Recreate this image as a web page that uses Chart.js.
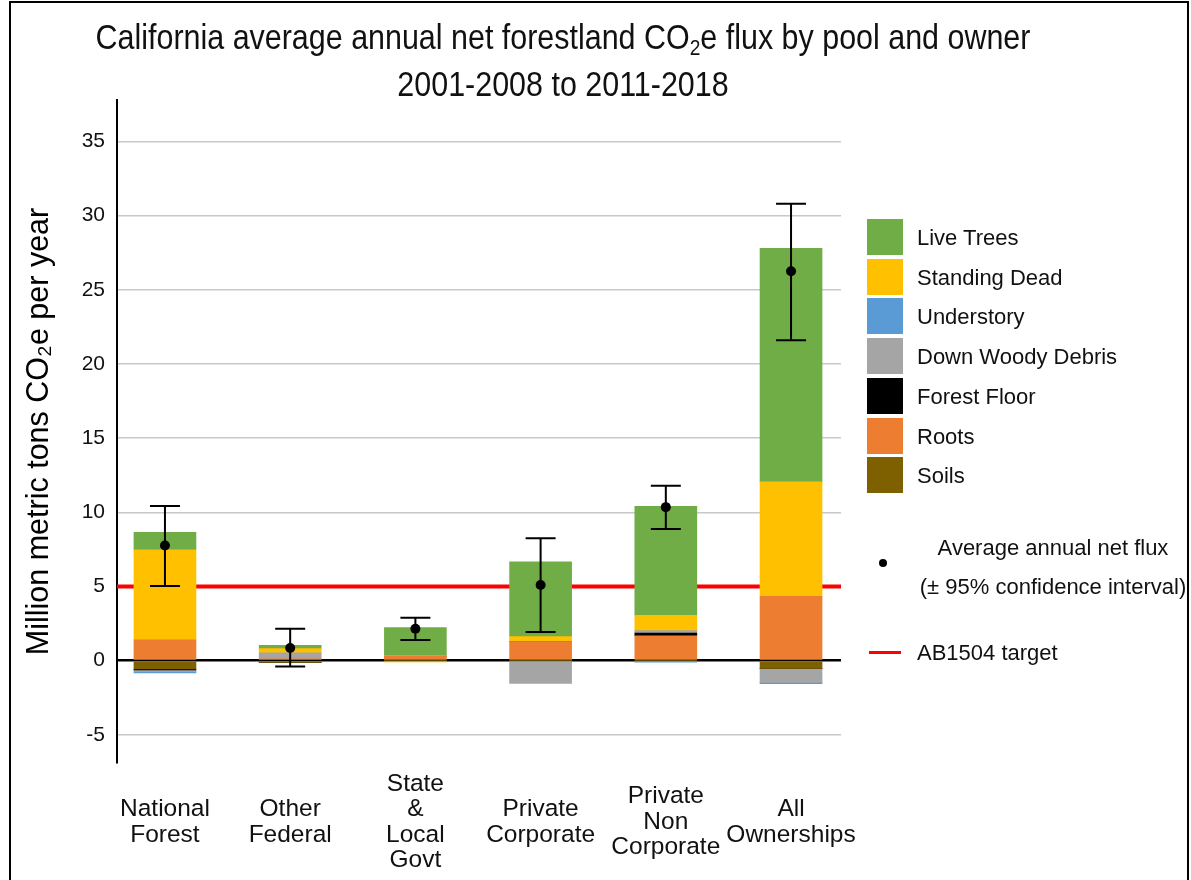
<!DOCTYPE html>
<html>
<head>
<meta charset="utf-8">
<script src="https://cdn.jsdelivr.net/npm/chart.js@4.4.1/dist/chart.umd.min.js"></script>
<style>
  html, body { margin: 0; padding: 0; background: #fff; }
  #wrap { position: relative; width: 1191px; height: 880px; overflow: hidden; background: #fff; }
  #frame { position: absolute; left: 9px; top: 1px; width: 1180px; height: 900px; border: 2px solid #000; box-sizing: border-box; pointer-events: none; }
  #chart { position: absolute; left: 0; top: 0; }
  .title { position: absolute; left: 0; width: 1126px; text-align: center; font-family: "Liberation Sans", Arial, sans-serif;
    font-size: 35px; line-height: 40px; color: #111; transform: scaleX(0.87); transform-origin: 50% 0; white-space: nowrap; }
  .title sub { font-size: 22px; vertical-align: -6px; line-height: 0; }
  .legend { position: absolute; font-family: "Liberation Sans", Arial, sans-serif; font-size: 22px; color: #111; white-space: nowrap; }
  .swatch { position: absolute; width: 36px; height: 36px; }
</style>
</head>
<body>
<div id="wrap">
  <canvas id="chart" width="1191" height="880"></canvas>
  <div class="title" style="top:17px">California average annual net forestland CO<sub>2</sub>e flux by pool and owner</div>
  <div class="title" style="top:64px">2001-2008 to 2011-2018</div>
  <div id="legendBox"></div>
  <div id="frame"></div>
</div>
<script>
const categories = [
  ["National", "Forest"],
  ["Other", "Federal"],
  ["State", "&", "Local", "Govt"],
  ["Private", "Corporate"],
  ["Private", "Non", "Corporate"],
  ["All", "Ownerships"]
];

const poolNames = ["Live Trees", "Standing Dead", "Understory", "Down Woody Debris", "Forest Floor", "Roots", "Soils"];
const poolColors = ["#70ad47", "#ffc000", "#5b9bd5", "#a5a5a5", "#000000", "#ed7d31", "#7f6000"];

const liveTrees = [1.19, 0.22, 1.87, 5.04, 7.36, 15.75];
const standingDead = [6.06, 0.29, -0.08, 0.36, 1.03, 7.72];
const understory = [-0.08, 0, 0, 0, -0.1, -0.09];
const downWoodyDebris = [-0.12, 0.39, 0.06, -1.53, 0.16, -0.94];
const forestFloor = [-0.07, 0, 0, 0, 0.18, 0];
const roots = [1.41, 0.13, 0.3, 1.26, 1.68, 4.33];
const soils = [-0.56, -0.12, 0, 0, 0, -0.52];

const netFlux = [7.76, 0.85, 2.15, 5.1, 10.35, 26.25];
const ciLow = [5.03, -0.4, 1.39, 1.93, 8.88, 21.6];
const ciHigh = [10.43, 2.15, 2.9, 8.26, 11.8, 30.8];

const targetValue = 5;
const targetLabel = "AB1504 target";
const fluxLabel = ["Average annual net flux", "(\u00b1 95% confidence interval)"];

const xMin = -0.383;
const xMax = 5.399;
const yMin = -6.9;
const yMax = 37.8;

const poolValues = [liveTrees, standingDead, understory, downWoodyDebris, forestFloor, roots, soils];
const FONT = '"Liberation Sans", Arial, sans-serif';

function toPoints(values) {
  return values.map((v, i) => ({ x: i, y: v }));
}

// stacking goes in dataset order, so soils sit next to zero and live trees on top
const barDatasets = poolNames.map((name, i) => ({
  type: "bar",
  label: name,
  data: toPoints(poolValues[i]),
  backgroundColor: poolColors[i],
  borderWidth: 0,
  barThickness: 62,
  stack: "pools",
  order: 2
})).reverse();

const errorBars = {
  id: "errorBars",
  afterDatasetsDraw(chart) {
    const { ctx, scales } = chart;
    ctx.save();
    ctx.strokeStyle = "#000";
    ctx.lineWidth = 2;
    netFlux.forEach((_, i) => {
      const x = scales.x.getPixelForValue(i);
      const lo = scales.y.getPixelForValue(ciLow[i]);
      const hi = scales.y.getPixelForValue(ciHigh[i]);
      ctx.beginPath();
      ctx.moveTo(x, lo);
      ctx.lineTo(x, hi);
      ctx.moveTo(x - 15, lo);
      ctx.lineTo(x + 15, lo);
      ctx.moveTo(x - 15, hi);
      ctx.lineTo(x + 15, hi);
      ctx.stroke();
    });
    ctx.restore();
  }
};

new Chart(document.getElementById("chart"), {
  data: {
    datasets: [
      {
        type: "line",
        label: targetLabel,
        data: [{ x: xMin, y: targetValue }, { x: xMax, y: targetValue }],
        borderColor: "#ff0000",
        borderWidth: 4,
        pointRadius: 0,
        stack: "target",
        order: 3
      },
      ...barDatasets,
      {
        type: "line",
        label: fluxLabel[0],
        data: toPoints(netFlux),
        showLine: false,
        pointRadius: 5,
        pointBackgroundColor: "#000",
        pointBorderWidth: 0,
        stack: "flux",
        order: 0
      }
    ]
  },
  options: {
    responsive: false,
    animation: false,
    layout: { padding: { top: 100, right: 350, left: 0, bottom: 0 } },
    plugins: {
      legend: { display: false },
      tooltip: { enabled: false },
      title: { display: false }
    },
    scales: {
      x: {
        type: "linear",
        stacked: true,
        offset: false,
        min: xMin,
        max: xMax,
        grid: { display: false },
        border: { display: false },
        afterBuildTicks: (scale) => {
          scale.ticks = categories.map((_, i) => ({ value: i }));
        },
        afterFit: (scale) => {
          scale.height = 117;
          scale.paddingLeft = 0;
          scale.paddingRight = 0;
        },
        ticks: {
          callback: (value) => categories[value],
          font: { family: FONT, size: 24.5, lineHeight: 1.04 },
          color: "#111",
          crossAlign: "center",
          padding: 13,
          maxRotation: 0,
          autoSkip: false
        }
      },
      y: {
        stacked: true,
        min: yMin,
        max: yMax,
        border: { display: true, color: "#000", width: 2 },
        grid: {
          drawTicks: false,
          color: (c) => (c.tick && c.tick.value === 0 ? "#000" : "#c8c8c8"),
          lineWidth: (c) => (c.tick && c.tick.value === 0 ? 2.5 : 1.5)
        },
        afterFit: (scale) => { scale.width = 117; },
        ticks: {
          stepSize: 5,
          includeBounds: false,
          padding: 12,
          font: { family: FONT, size: 21 },
          color: "#111"
        },
        title: {
          display: true,
          text: "Million metric tons CO\u2082e per year",
          font: { family: FONT, size: 30.5 },
          color: "#000",
          padding: { top: 21, bottom: 0 }
        }
      }
    }
  },
  plugins: [errorBars]
});

// legend on the right, built from the same names and colours
const legendBox = document.getElementById("legendBox");
poolNames.forEach((name, i) => {
  const top = 219 + i * 39.7;
  const sw = document.createElement("div");
  sw.className = "swatch";
  sw.style.left = "867px";
  sw.style.top = top + "px";
  sw.style.background = poolColors[i];
  legendBox.appendChild(sw);
  const label = document.createElement("div");
  label.className = "legend";
  label.style.left = "917px";
  label.style.top = (top + 6) + "px";
  label.style.lineHeight = "26px";
  label.textContent = name;
  legendBox.appendChild(label);
});

const dot = document.createElement("div");
dot.style.cssText = "position:absolute;left:879px;top:559px;width:8px;height:8px;border-radius:50%;background:#000";
legendBox.appendChild(dot);
const fluxText = document.createElement("div");
fluxText.className = "legend";
fluxText.style.cssText = "left:915px;top:528px;width:276px;text-align:center;line-height:39px";
fluxText.innerHTML = fluxLabel.join("<br>");
legendBox.appendChild(fluxText);

const redLine = document.createElement("div");
redLine.style.cssText = "position:absolute;left:869px;top:651px;width:32px;height:3px;background:#ff0000";
legendBox.appendChild(redLine);
const targetText = document.createElement("div");
targetText.className = "legend";
targetText.style.cssText = "left:917px;top:640px;line-height:26px";
targetText.textContent = targetLabel;
legendBox.appendChild(targetText);
</script>
</body>
</html>
